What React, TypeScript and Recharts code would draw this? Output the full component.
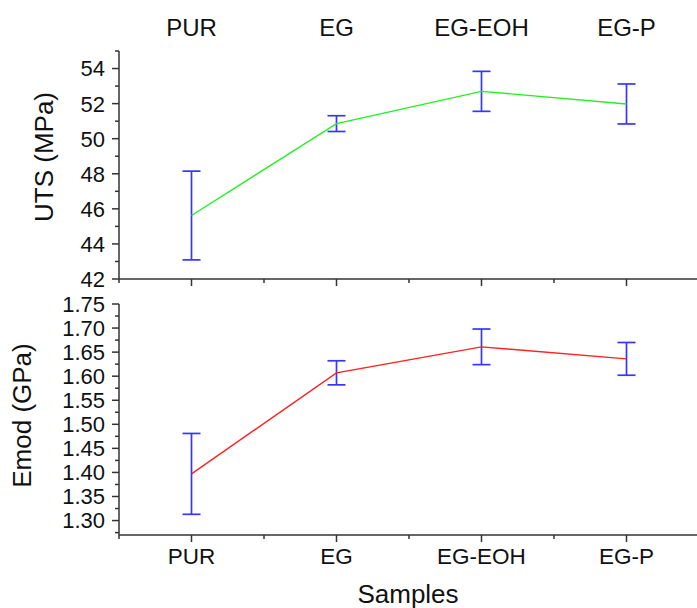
import React from "react";
import { LineChart, Line, XAxis, YAxis, ErrorBar } from "recharts";

const samples = ["PUR", "EG", "EG-EOH", "EG-P"];
const utsMean = [45.62, 50.86, 52.7, 51.98];
const utsErr = [2.53, 0.45, 1.14, 1.14];
const emodMean = [1.397, 1.607, 1.661, 1.636];
const emodErr = [0.084, 0.025, 0.037, 0.034];

const xTicks = [0.5, 1, 1.5, 2, 2.5, 3, 3.5, 4, 4.5];
const utsTicks = [42, 43, 44, 45, 46, 47, 48, 49, 50, 51, 52, 53, 54, 55];
const emodTicks = [
  1.275, 1.3, 1.325, 1.35, 1.375, 1.4, 1.425, 1.45, 1.475, 1.5, 1.525, 1.55,
  1.575, 1.6, 1.625, 1.65, 1.675, 1.7, 1.725, 1.75,
];

const data = samples.map((name, i) => ({
  x: i + 1,
  name,
  uts: utsMean[i],
  utsErr: utsErr[i],
  emod: emodMean[i],
  emodErr: emodErr[i],
}));

const AXIS = "#333";
const TEXT = "#111";
const BAR = "#3636ff";

const isCat = (v: number) => Number.isInteger(v);

const makeYTick =
  (isMajor: (v: number) => boolean, fmt: (v: number) => string) =>
  (props: any) => {
    const { x, y, payload } = props;
    const major = isMajor(payload.value);
    return (
      <g>
        <line x1={x} x2={x - (major ? 7 : 4)} y1={y} y2={y} stroke={AXIS} strokeWidth={1.5} />
        {major && (
          <text x={x - 14} y={y} dy="0.36em" textAnchor="end" fontSize={22} fill={TEXT}>
            {fmt(payload.value)}
          </text>
        )}
      </g>
    );
  };

const makeXTick = (showLabel: boolean) => (props: any) => {
  const { x, y, payload } = props;
  const major = isCat(payload.value);
  return (
    <g>
      <line x1={x} x2={x} y1={y} y2={y + (major ? 7 : 4)} stroke={AXIS} strokeWidth={1.5} />
      {showLabel && major && (
        <text x={x} y={y + 29} textAnchor="middle" fontSize={22.5} fill={TEXT}>
          {samples[payload.value - 1]}
        </text>
      )}
    </g>
  );
};

const TopCatTick = (props: any) => {
  const { x, y, payload } = props;
  if (!isCat(payload.value)) return null;
  return (
    <text x={x} y={y - 15} textAnchor="middle" fontSize={24} fill={TEXT}>
      {samples[payload.value - 1]}
    </text>
  );
};

const yTitle = (value: string, dx: number, dy: number) => (props: any) => {
  const vb = props.viewBox || {};
  const cx = vb.x + dx;
  const cy = vb.y + vb.height / 2 + dy;
  return (
    <text
      x={cx}
      y={cy}
      textAnchor="middle"
      fontSize={26}
      fill={TEXT}
      transform={`rotate(-90 ${cx} ${cy})`}
    >
      {value}
    </text>
  );
};

const samplesTitle = (props: any) => {
  const vb = props.viewBox || {};
  return (
    <text x={vb.x + 289} y={vb.y + 68} textAnchor="middle" fontSize={26} fill={TEXT}>
      Samples
    </text>
  );
};

export default function App() {
  return (
    <div
      style={{
        position: "absolute",
        left: 0,
        top: 0,
        width: 697,
        height: 608,
        overflow: "hidden",
        background: "#fff",
        fontFamily: "'Liberation Sans', Arial, sans-serif",
      }}
    >
      <div style={{ position: "absolute", left: 0, top: 0 }}>
        <LineChart width={699} height={300} data={data} margin={{ top: 0, right: 0, bottom: 0, left: 0 }}>
          <XAxis
            xAxisId="top"
            orientation="top"
            type="number"
            dataKey="x"
            domain={[0.5, 4.5]}
            ticks={xTicks}
            interval={0}
            height={51}
            axisLine={false}
            tickLine={false}
            tickSize={0}
            tickMargin={0}
            tick={TopCatTick}
          />
          <XAxis
            type="number"
            dataKey="x"
            domain={[0.5, 4.5]}
            ticks={xTicks}
            interval={0}
            height={21}
            axisLine={{ stroke: AXIS, strokeWidth: 1.5 }}
            tickLine={false}
            tickSize={0}
            tickMargin={0}
            tick={makeXTick(false)}
          />
          <YAxis
            type="number"
            domain={[42, 55]}
            ticks={utsTicks}
            interval={0}
            width={119}
            axisLine={{ stroke: AXIS, strokeWidth: 1.5 }}
            tickLine={false}
            tickSize={0}
            tickMargin={0}
            tick={makeYTick((v) => v % 2 === 0, (v) => String(v))}
            label={yTitle("UTS (MPa)", 53, -8)}
          />
          <Line
            type="linear"
            dataKey="uts"
            stroke="#22f022"
            strokeWidth={1.4}
            dot={false}
            isAnimationActive={false}
          >
            <ErrorBar dataKey="utsErr" width={9} stroke={BAR} strokeWidth={1.7} direction="y" isAnimationActive={false} />
          </Line>
        </LineChart>
      </div>
      <div style={{ position: "absolute", left: 0, top: 290 }}>
        <LineChart width={699} height={318} data={data} margin={{ top: 14, right: 0, bottom: 0, left: 0 }}>
          <XAxis
            type="number"
            dataKey="x"
            domain={[0.5, 4.5]}
            ticks={xTicks}
            interval={0}
            height={73}
            axisLine={{ stroke: AXIS, strokeWidth: 1.5 }}
            tickLine={false}
            tickSize={0}
            tickMargin={0}
            tick={makeXTick(true)}
            label={samplesTitle}
          />
          <YAxis
            type="number"
            domain={[1.27, 1.75]}
            ticks={emodTicks}
            interval={0}
            width={119}
            axisLine={{ stroke: AXIS, strokeWidth: 1.5 }}
            tickLine={false}
            tickSize={0}
            tickMargin={0}
            tick={makeYTick((v) => Math.round(v * 1000) % 50 === 0, (v) => v.toFixed(2))}
            label={yTitle("Emod (GPa)", 31, -4)}
          />
          <Line
            type="linear"
            dataKey="emod"
            stroke="#ff2020"
            strokeWidth={1.4}
            dot={false}
            isAnimationActive={false}
          >
            <ErrorBar dataKey="emodErr" width={9} stroke={BAR} strokeWidth={1.7} direction="y" isAnimationActive={false} />
          </Line>
        </LineChart>
      </div>
    </div>
  );
}
